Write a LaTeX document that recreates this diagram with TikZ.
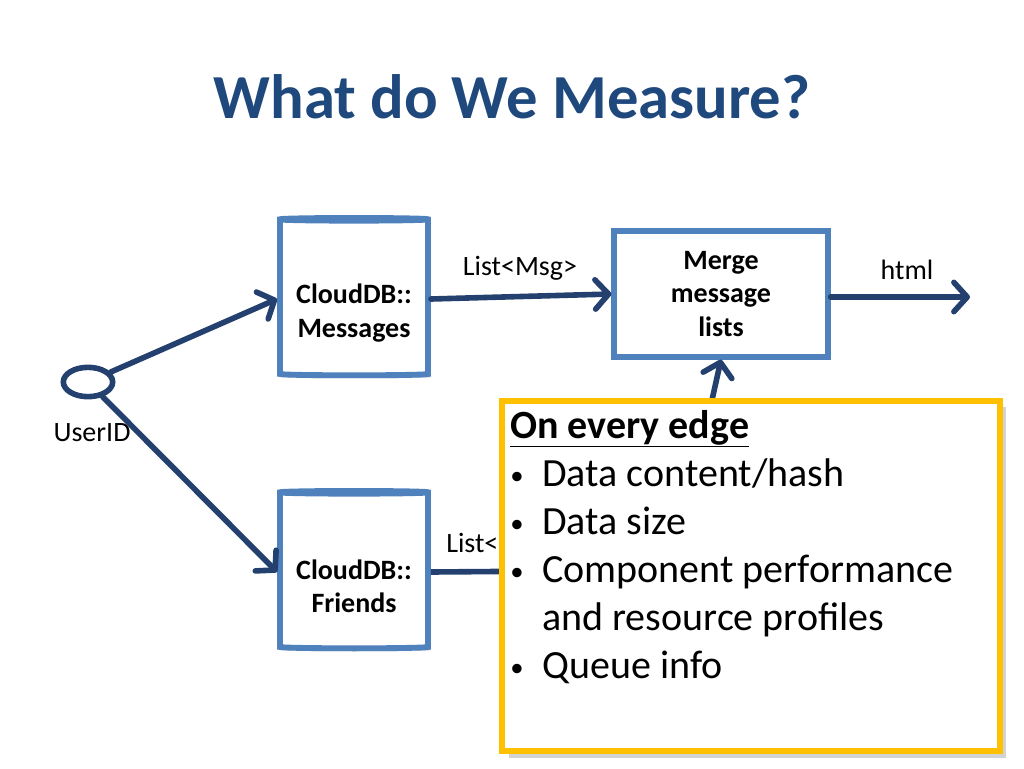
\documentclass[tikz,border=0pt]{standalone}
\usepackage{fontspec}
\setmainfont{Carlito}
\usetikzlibrary{arrows.meta,shapes.geometric,shadows,positioning}
\definecolor{titleblue}{RGB}{31,73,125}
\definecolor{edgeblue}{RGB}{36,64,110}
\definecolor{boxblue}{RGB}{79,129,189}
\definecolor{calloutyellow}{RGB}{255,192,0}
\tikzset{
  db/.style={cylinder, shape border rotate=90, aspect=0.3, draw=boxblue, line width=4.4pt,
    fill=white, minimum width=111pt, minimum height=118pt, drop shadow={opacity=0.25}},
  dbtext/.style={align=center, font=\fontsize{21}{25}\selectfont\bfseries},
  flow/.style={draw=edgeblue, line width=4.2pt, line cap=round,
    -{Straight Barb[length=10pt,width=22pt,line cap=round,line join=round]}},
  lbl/.style={font=\fontsize{21}{25}\selectfont, inner sep=0pt}
}
\newcommand{\bul}{\makebox[24pt][l]{\raisebox{1pt}{\fontsize{20}{20}\selectfont•}}}
\begin{document}
\begin{tikzpicture}[x=0.75pt,y=-0.75pt]
  \useasboundingbox (0,0) rectangle (1024,768);
  % title
  \node[font=\fontsize{47}{56}\selectfont\bfseries, text=titleblue] (title) at (512,97) {What do We Measure?};
  % stores
  \node[db] (msgs) at (354,299) {};
  \node[dbtext] (msgstext) at (354,313) {CloudDB::\\Messages};
  \node[db] (friends) at (354,572) {};
  \node[dbtext] (friendstext) at (354,586) {CloudDB::\\Friends};
  \node[draw=boxblue, line width=4.4pt, fill=white, minimum width=160pt, minimum height=94pt,
    align=center, font=\fontsize{21}{25}\selectfont\bfseries, drop shadow={opacity=0.25}]
    (merge) at (721,294) {Merge\\message\\lists};
  \node[draw=edgeblue, line width=4.2pt, ellipse, minimum width=37pt, minimum height=22pt] (user) at (88,382) {};
  \coordinate (out) at (970,297);
  \coordinate (fout) at (560,571);
  \coordinate (up) at (712,400);
  % connectors
  \draw[flow] (user) -- (msgs.west);
  \draw[flow] (user) -- (friends.west);
  \draw[flow] (msgs.east) -- (merge.west);
  \draw[flow] (merge.east |- out) -- (out);
  \draw[flow] (up) -- (merge.south);
  \draw[draw=edgeblue, line width=4.2pt] (friends.east) -- (fout);
  % labels
  \node[lbl] (lmsg) at (520,268) {List<Msg>};
  \node[lbl] (lhtml) at (907,270) {html};
  \node[lbl] (luser) at (92,433) {UserID};
  \node[lbl, anchor=west] (lfr) at (446,543) {List<};
  % callout
  \node[draw=calloutyellow, line width=4.4pt, fill=white, minimum width=373pt, minimum height=263pt,
    drop shadow={shadow xshift=5pt, shadow yshift=-5pt, opacity=0.35}] (note) at (751,576) {};
  \node[anchor=north west, align=left, inner sep=0pt, font=\fontsize{30}{36}\selectfont]
    (notetext) at ([xshift=8pt,yshift=-9pt]note.north west)
    {\textbf{\underline{On every edge}}\\
     \bul Data content/hash\\
     \bul Data size\\
     \bul Component performance\\
     \hspace*{24pt}and resource profiles\\
     \bul Queue info};
\end{tikzpicture}
\end{document}
